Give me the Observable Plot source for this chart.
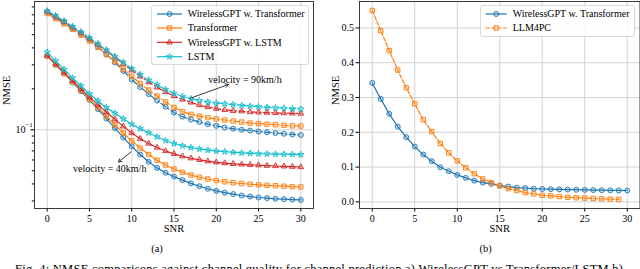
<!DOCTYPE html>
<html><head><meta charset="utf-8">
<script src="https://cdn.jsdelivr.net/npm/d3@7"></script>
<script src="https://cdn.jsdelivr.net/npm/@observablehq/plot@0.6"></script>
<style>
html,body{margin:0;padding:0;background:#fff;}
#root{position:relative;width:640px;height:269px;overflow:hidden;font-family:"Liberation Serif","Times New Roman",serif;}
.panel{position:absolute;top:0;}
#overlay{position:absolute;left:0;top:0;pointer-events:none;}
</style></head><body><div id="root"></div>
<script>
// ---------- data ----------
const snr = [0,1,2,3,4,5,6,7,8,9,10,11,12,13,14,15,16,17,18,19,20,21,22,23,24,25,26,27,28,29,30];
const snrLLM = [0,1,2,3,4,5,6,7,8,9,10,11,12,13,14,15,16,17,18,19,20,21,22,23,24,25,26,27,28,29];

// (a) velocity = 90 km/h
const wgptTrans90 = [0.735,0.672,0.613,0.559,0.508,0.461,0.410,0.358,0.313,0.271,0.234,0.206,0.183,0.164,0.148,0.134,0.125,0.119,0.114,0.110,0.107,0.104,0.102,0.100,0.0987,0.0972,0.0959,0.0946,0.0935,0.0925,0.0916];
const trans90     = [0.716,0.656,0.600,0.547,0.496,0.450,0.403,0.358,0.318,0.280,0.247,0.219,0.196,0.177,0.160,0.146,0.136,0.130,0.126,0.123,0.120,0.118,0.116,0.114,0.112,0.111,0.110,0.109,0.108,0.107,0.1066];
const wgptLSTM90  = [0.741,0.681,0.622,0.567,0.516,0.469,0.424,0.381,0.342,0.306,0.274,0.247,0.224,0.205,0.190,0.177,0.167,0.159,0.152,0.147,0.143,0.140,0.138,0.137,0.135,0.1345,0.1338,0.1331,0.1327,0.1322,0.1318];
const lstm90      = [0.747,0.692,0.631,0.575,0.524,0.475,0.429,0.386,0.346,0.313,0.282,0.255,0.232,0.214,0.198,0.185,0.176,0.169,0.164,0.160,0.157,0.155,0.153,0.151,0.149,0.148,0.146,0.145,0.144,0.143,0.142];
// (a) velocity = 40 km/h
const wgptTrans40 = [0.349,0.301,0.259,0.223,0.192,0.166,0.142,0.121,0.103,0.088,0.0756,0.0658,0.0582,0.0525,0.0484,0.0453,0.0427,0.0404,0.0385,0.0369,0.0356,0.0345,0.0337,0.0329,0.0323,0.0318,0.0315,0.0311,0.0309,0.0307,0.0305];
const trans40     = [0.349,0.301,0.260,0.225,0.195,0.168,0.146,0.126,0.109,0.095,0.083,0.0735,0.0658,0.0598,0.0551,0.0515,0.0487,0.0465,0.0448,0.0435,0.0424,0.0415,0.0408,0.0403,0.0398,0.0394,0.0391,0.0388,0.0385,0.0382,0.038];
const wgptLSTM40  = [0.352,0.305,0.264,0.229,0.1995,0.174,0.153,0.135,0.1195,0.106,0.0947,0.086,0.0793,0.0741,0.0698,0.0666,0.0639,0.0618,0.0602,0.0588,0.0577,0.0569,0.0562,0.0557,0.0553,0.0549,0.0545,0.0542,0.0539,0.0536,0.0533];
const lstm40      = [0.372,0.321,0.278,0.241,0.210,0.184,0.163,0.146,0.1325,0.1205,0.110,0.102,0.095,0.0888,0.0834,0.0793,0.0763,0.074,0.0723,0.0709,0.0698,0.069,0.0683,0.0676,0.0672,0.0667,0.0664,0.0662,0.0661,0.066,0.0658];

// (b)
const wgptTransB = [0.342,0.296,0.253,0.216,0.186,0.159,0.136,0.117,0.0995,0.088,0.0776,0.069,0.061,0.0555,0.0517,0.047,0.044,0.041,0.040,0.038,0.037,0.0365,0.036,0.0355,0.035,0.0345,0.034,0.0337,0.0333,0.033,0.0327];
const llm4pc     = [0.550,0.492,0.435,0.379,0.328,0.282,0.236,0.202,0.168,0.141,0.118,0.098,0.081,0.066,0.0555,0.046,0.038,0.0325,0.0267,0.023,0.019,0.0172,0.0152,0.0133,0.012,0.011,0.0098,0.0088,0.008,0.0072];

const xTicks = [0,5,10,15,20,25,30];
const yTicksA = [0.1];
const yMinorA = [0.03,0.04,0.05,0.06,0.07,0.08,0.09,0.2,0.3,0.4,0.5,0.6,0.7,0.8];
const yTicksB = [0.0,0.1,0.2,0.3,0.4,0.5];
const namesA = ["WirelessGPT w. Transformer","Transformer","WirelessGPT w. LSTM","LSTM"];
const namesB = ["WirelessGPT w. Transformer","LLM4PC"];
const captionA = "(a)", captionB = "(b)";
const figCaption = "Fig. 4: NMSE comparisons against channel quality for channel prediction a) WirelessGPT vs Transformer/LSTM b)";
const ann90 = "velocity = 90km/h", ann40 = "velocity = 40km/h";

// ---------- styles ----------
const C = {blue:"#1f77b4", orange:"#ff7f0e", red:"#d62728", cyan:"#17becf"};
const DASHDOT = "6,2.4,1.4,2.4", DASHED = "4,1.8";
const seriesA = [
  {name:namesA[0], color:C.blue,   symbol:"circle",   r:2.5, v90:wgptTrans90, v40:wgptTrans40},
  {name:namesA[1], color:C.orange, symbol:"square",   r:2.5, v90:trans90,     v40:trans40},
  {name:namesA[2], color:C.red,    symbol:"triangle", r:2.1, v90:wgptLSTM90,  v40:wgptLSTM40},
  {name:namesA[3], color:C.cyan,   symbol:"star",     r:2.0, v90:lstm90,      v40:lstm40}
];
const seriesB = [
  {name:namesB[0], color:C.blue,   symbol:"circle", r:2.5, x:snr,    v:wgptTransB, dash:null},
  {name:namesB[1], color:C.orange, symbol:"square", r:2.5, x:snrLLM, v:llm4pc,     dash:DASHED}
];
const FILL_OP = 0.22;
const rows = (xs, ys) => xs.map((x,i)=>({x, y:ys[i]}));
const gridStyle = {stroke:"#cfcfcf", strokeOpacity:1, strokeWidth:0.9};
const font = "'Liberation Serif', 'Times New Roman', serif";
const root = document.getElementById("root");

// ---------- panel (a) ----------
const marksA = [
  Plot.gridX(xTicks, gridStyle),
  Plot.gridY(yTicksA, gridStyle)
];
for (const s of seriesA) {
  for (const [vals, dash] of [[s.v40, null],[s.v90, DASHDOT]]) {
    const d = rows(snr, vals);
    marksA.push(Plot.line(d, {x:"x", y:"y", stroke:s.color, strokeWidth:1.2, strokeDasharray:dash}));
    marksA.push(Plot.dot(d, {x:"x", y:"y", symbol:s.symbol, r:s.r, stroke:s.color, fill:s.color, fillOpacity:FILL_OP, strokeWidth:0.9}));
  }
}
marksA.push(
  Plot.axisX({ticks:xTicks, tickSize:3.5, tickPadding:2.5, label:null, tickFormat:d=>String(d)}),
  Plot.axisY({ticks:yMinorA, tickSize:2.2, tickFormat:()=> "", label:null}),
  Plot.axisY({ticks:yTicksA, tickSize:3.5, tickPadding:5.5, tickFormat:()=> "10", label:null}),
  Plot.text(["SNR"], {frameAnchor:"bottom", lineAnchor:"middle", dy:20.5, fontSize:10.5}),
  Plot.text(["NMSE"], {frameAnchor:"left", lineAnchor:"middle", dx:-28, rotate:-90, fontSize:10.5}),
  Plot.arrow([{x1:16.95, y1:0.1708, x2:21.44, y2:0.2153}], {x1:"x1", y1:"y1", x2:"x2", y2:"y2", stroke:"#222", strokeWidth:0.9, headLength:6}),
  Plot.arrow([{x1:9.91, y1:0.0687, x2:8.43, y2:0.058}], {x1:"x1", y1:"y1", x2:"x2", y2:"y2", stroke:"#222", strokeWidth:0.9, headLength:6}),
  Plot.text([ann90], {x:()=>19.05, y:()=>0.234, textAnchor:"start", fontSize:10}),
  Plot.text([ann40], {x:()=>3.05, y:()=>0.0516, textAnchor:"start", fontSize:10}),
  Plot.frame({stroke:"#262626", strokeWidth:0.9})
);
const plotA = Plot.plot({
  width:320, height:235, marginLeft:34, marginRight:7, marginTop:1, marginBottom:27,
  x:{domain:[-1.5,31.5]},
  y:{type:"log", domain:[0.0264,0.877]},
  style:{fontFamily:font, fontSize:"10px", color:"#000", background:"transparent", overflow:"visible"},
  marks:marksA
});
plotA.classList.add("panel"); plotA.style.left = "0px";
root.appendChild(plotA);

// ---------- panel (b) ----------
const marksB = [
  Plot.gridX(xTicks, gridStyle),
  Plot.gridY(yTicksB, gridStyle)
];
for (const s of seriesB) {
  const d = rows(s.x, s.v);
  marksB.push(Plot.line(d, {x:"x", y:"y", stroke:s.color, strokeWidth:1.2, strokeDasharray:s.dash}));
  marksB.push(Plot.dot(d, {x:"x", y:"y", symbol:s.symbol, r:s.r, stroke:s.color, fill:s.color, fillOpacity:FILL_OP, strokeWidth:0.9}));
}
marksB.push(
  Plot.axisX({ticks:xTicks, tickSize:3.5, tickPadding:2.5, label:null, tickFormat:d=>String(d)}),
  Plot.axisY({ticks:yTicksB, tickSize:3.5, tickPadding:2, label:null, tickFormat:d3.format(".1f")}),
  Plot.text(["SNR"], {frameAnchor:"bottom", lineAnchor:"middle", dy:20.5, fontSize:10.5}),
  Plot.text(["NMSE"], {frameAnchor:"left", lineAnchor:"middle", dx:-24, rotate:-90, fontSize:10.5}),
  Plot.frame({stroke:"#262626", strokeWidth:0.9})
);
const plotB = Plot.plot({
  width:320, height:235, marginLeft:39, marginRight:0.5, marginTop:1, marginBottom:27,
  x:{domain:[-1.5,31.5]},
  y:{domain:[-0.019,0.576]},
  style:{fontFamily:font, fontSize:"10px", color:"#000", background:"transparent", overflow:"visible"},
  marks:marksB
});
plotB.classList.add("panel"); plotB.style.left = "320px";
root.appendChild(plotB);

// ---------- overlay: legends, superscript and captions ----------
const ov = d3.select(root).append("svg").attr("id","overlay").attr("width",640).attr("height",269)
  .style("font-family", font);
function legend(box, items, x0, x1, xText, ys) {
  ov.append("rect").attr("x",box[0]+0.5).attr("y",box[1]+0.5).attr("width",box[2]).attr("height",box[3])
    .attr("rx",2.5).attr("fill","#fff").attr("fill-opacity",0.85).attr("stroke","#d4d4d4").attr("stroke-width",0.9);
  items.forEach((s,i)=>{
    const y = ys[i];
    ov.append("line").attr("x1",x0).attr("x2",x1).attr("y1",y).attr("y2",y).attr("stroke",s.color).attr("stroke-width",1.2)
      .attr("stroke-dasharray", s.dash || null);
    const typ = {circle:d3.symbolCircle, square:d3.symbolSquare, triangle:d3.symbolTriangle, star:d3.symbolStar}[s.symbol];
    ov.append("path").attr("d", d3.symbol().type(typ).size(Math.PI*s.r*s.r)()).attr("transform",`translate(${(x0+x1)/2},${y})`)
      .attr("fill",s.color).attr("fill-opacity",FILL_OP).attr("stroke",s.color).attr("stroke-width",0.9);
    ov.append("text").attr("x",xText).attr("y",y).attr("dy","0.34em").attr("font-size",10).attr("fill","#000").text(s.name);
  });
}
legend([151,5,157,59], seriesA, 157, 182, 187.7, [14,28,42.3,56.7]);
legend([480,5,154,31], seriesB, 485.7, 506.7, 512.7, [14,28]);

// superscript of the 10^-1 tick label, placed with panel (a)'s own y scale
const yA = plotA.scale("y");
ov.append("text").attr("x",25.2).attr("y", yA.apply(0.1) - 2.5).attr("font-size",7).attr("fill","#000").text("−1");

ov.append("text").attr("x",157).attr("y",251.5).attr("text-anchor","middle").attr("font-size",10.5).text(captionA);
ov.append("text").attr("x",485.7).attr("y",251.5).attr("text-anchor","middle").attr("font-size",10.5).text(captionB);
ov.append("text").attr("x",15).attr("y",272.5).attr("font-size",12.5).attr("textLength",608).attr("lengthAdjust","spacing").text(figCaption);
</script></body></html>
